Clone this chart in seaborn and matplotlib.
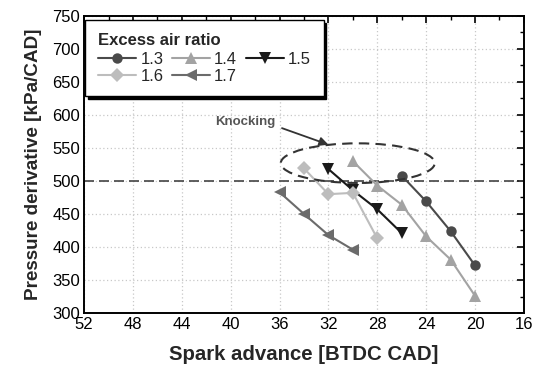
import matplotlib
matplotlib.use("Agg")
import matplotlib.pyplot as plt
import seaborn as sns
import pandas as pd
from matplotlib.patches import Ellipse
from matplotlib.ticker import MultipleLocator

sns.set_theme(style="white")
plt.rcParams['font.family'] = ['Liberation Sans', 'DejaVu Sans']

ratios = ["1.3", "1.4", "1.5", "1.6", "1.7"]
x_13 = [26, 24, 22, 20]
y_13 = [508, 469, 424, 372]
x_14 = [30, 28, 26, 24, 22, 20]
y_14 = [530, 493, 464, 416, 381, 326]
x_15 = [32, 30, 28, 26]
y_15 = [518, 486, 457, 421]
x_16 = [34, 32, 30, 28]
y_16 = [519, 480, 482, 413]
x_17 = [36, 34, 32, 30]
y_17 = [483, 450, 418, 396]

xs = [x_13, x_14, x_15, x_16, x_17]
ys = [y_13, y_14, y_15, y_16, y_17]
rows = []
for r, xx, yy in zip(ratios, xs, ys):
    for a, b in zip(xx, yy):
        rows.append({"ratio": r, "sa": a, "dp": b})
df = pd.DataFrame(rows)

colors = {"1.3": "#4a4a4a", "1.4": "#a3a3a3", "1.5": "#1a1a1a", "1.6": "#bdbdbd", "1.7": "#6b6b6b"}
markers = {"1.3": "o", "1.4": "^", "1.5": "v", "1.6": "D", "1.7": "<"}
msizes = {"1.3": 7.5, "1.4": 9, "1.5": 9, "1.6": 7, "1.7": 9}

fig = plt.figure(figsize=(5.39, 3.70), dpi=100)
ax = fig.add_axes([0.156, 0.154, 0.816, 0.803])

handles = {}
for r in ratios:
    sub = df[df.ratio == r]
    sns.lineplot(data=sub, x="sa", y="dp", ax=ax, color=colors[r], marker=markers[r],
                 markersize=msizes[r], markeredgewidth=0, linewidth=1.5, legend=False,
                 sort=False, zorder=3)
    handles[r] = ax.lines[-1]

ax.axhline(500, color="#444444", linestyle=(0, (6, 3)), linewidth=1.2, zorder=2)
ell = Ellipse((29.6, 527), 12.6, 60, fill=False, edgecolor="#333333",
              linestyle=(0, (5, 3)), linewidth=1.5, zorder=4)
ax.add_patch(ell)
ax.text(38.8, 590, "Knocking", ha="center", va="center",
        fontsize=9.5, fontweight="bold", color="#555555")
ax.annotate("", xy=(32.0, 555), xytext=(35.8, 580),
            arrowprops=dict(arrowstyle="-|>", color="#333333", lw=1.3,
                            shrinkA=0, shrinkB=0, mutation_scale=13))

ax.set_xlim(52, 16)
ax.set_ylim(300, 750)
ax.xaxis.set_major_locator(MultipleLocator(4))
ax.xaxis.set_minor_locator(MultipleLocator(2))
ax.yaxis.set_major_locator(MultipleLocator(50))
ax.yaxis.set_minor_locator(MultipleLocator(25))
ax.grid(True, which="major", color="#c8c8c8", linestyle=(0, (1, 2)), linewidth=0.9)
ax.tick_params(which="both", direction="in", top=True, right=True, labelsize=12, colors="black")
ax.tick_params(which="major", length=5, width=1.2, pad=3)
ax.tick_params(which="minor", length=3, width=1.0)
for s in ax.spines.values():
    s.set_color("black")
    s.set_linewidth(1.4)
ax.set_xlabel("Spark advance [BTDC CAD]", fontsize=14.7, fontweight="bold", labelpad=9)
ax.set_ylabel("Pressure derivative [kPa/CAD]", fontsize=13.6, fontweight="bold", labelpad=7)

order = ["1.3", "1.6", "1.4", "1.7", "1.5"]
leg = ax.legend([handles[r] for r in order], order, title="Excess air ratio", ncol=3,
                loc="upper left", bbox_to_anchor=(0.003, 0.985), borderaxespad=0,
                fontsize=12, frameon=True, fancybox=False,
                shadow={"color": "black", "alpha": 1.0}, handlelength=2.3,
                handletextpad=0.25, columnspacing=0.5, labelspacing=0.1, borderpad=0.75,
                edgecolor="black")
leg.get_title().set_fontweight("bold")
leg.get_title().set_fontsize(12)
leg._legend_box.align = "left"
leg._legend_box.sep = 3
leg.get_frame().set_linewidth(1.0)

fig.savefig("out.png", dpi=100)
